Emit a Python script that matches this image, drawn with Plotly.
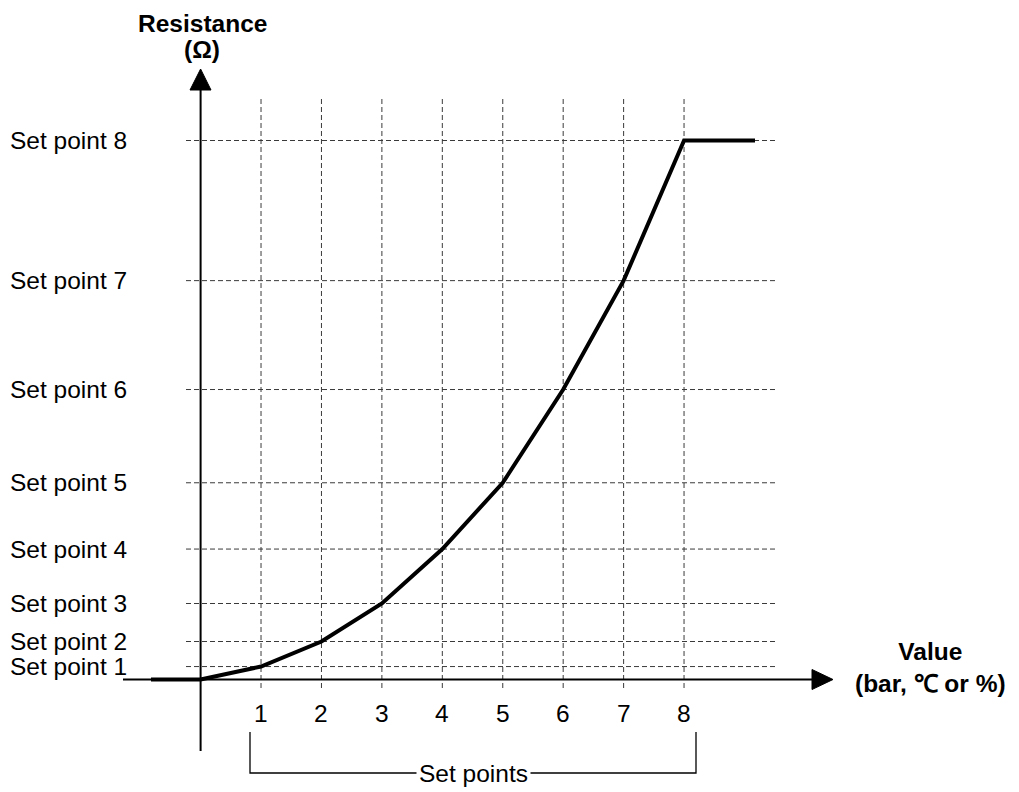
import plotly.graph_objects as go

# ---- data ----
set_point_numbers = [1, 2, 3, 4, 5, 6, 7, 8]
set_point_resistance = [2.4, 7.05, 14.1, 24.2, 36.5, 53.8, 74.0, 100.0]
tick_labels = ["1", "2", "3", "4", "5", "6", "7", "8"]
y_labels = [f"Set point {n}" for n in set_point_numbers]

W, H = 1019, 792
OFF = 8  # page body margin offset of the figure
# page-pixel <-> data mapping (linear, full-figure plot area)
PX0, PX_UNIT = 200.6, 60.43      # x pixel of value 0, pixels per unit
PY0, PY_UNIT = 679.5, 5.39       # y pixel of resistance 0, pixels per unit


def vx(p):
    return (p - PX0) / PX_UNIT


def vy(q):
    return (PY0 - q) / PY_UNIT


FONT = "Liberation Sans, Arial, Helvetica, sans-serif"
FS = 24.5

fig = go.Figure()

shapes = []
grid = dict(color="#3a3a3a", width=1, dash="5px,3px")
# vertical dashed grid lines
for n in set_point_numbers:
    shapes.append(dict(type="line", xref="x", yref="y", x0=n, x1=n,
                       y0=vy(688), y1=vy(97), line=grid, layer="below"))
# horizontal dashed grid lines
for r in set_point_resistance:
    shapes.append(dict(type="line", xref="x", yref="y", x0=vx(186), x1=vx(777),
                       y0=r, y1=r, line=grid, layer="below"))

axis_line = dict(color="black", width=2)
# x axis
shapes.append(dict(type="line", xref="x", yref="y", x0=vx(123), x1=vx(813),
                   y0=0, y1=0, line=axis_line))
shapes.append(dict(type="path", xref="x", yref="y",
                   path=f"M {vx(812)} {vy(669.5)} L {vx(833)} {vy(679.5)} L {vx(812)} {vy(689.5)} Z",
                   fillcolor="black", line=dict(color="black", width=1)))
# y axis
shapes.append(dict(type="line", xref="x", yref="y", x0=0, x1=0,
                   y0=vy(751), y1=vy(89), line=axis_line))
shapes.append(dict(type="path", xref="x", yref="y",
                   path=f"M {vx(190)} {vy(90)} L {vx(200.6)} {vy(69)} L {vx(211)} {vy(90)} Z",
                   fillcolor="black", line=dict(color="black", width=1)))
# bracket under set points
shapes.append(dict(type="path", xref="x", yref="y",
                   path=f"M {vx(250)} {vy(732)} L {vx(250)} {vy(773)} L {vx(696)} {vy(773)} L {vx(696)} {vy(732)}",
                   line=dict(color="black", width=1.3)))

# characteristic curve
curve_x = [vx(151)] + [0] + set_point_numbers + [vx(755)]
curve_y = [0, 0] + set_point_resistance + [set_point_resistance[-1]]
fig.add_trace(go.Scatter(x=curve_x, y=curve_y, mode="lines",
                         line=dict(color="black", width=4), hoverinfo="skip",
                         showlegend=False))

annotations = []
for n, t in zip(set_point_numbers, tick_labels):
    annotations.append(dict(x=n, y=vy(713), xref="x", yref="y", text=t,
                            showarrow=False, font=dict(size=FS, color="black", family=FONT),
                            xanchor="center", yanchor="middle"))
for r, t in zip(set_point_resistance, y_labels):
    annotations.append(dict(x=0, y=r, xref="paper", yref="y", text=t,
                            showarrow=False, font=dict(size=FS, color="black", family=FONT),
                            xanchor="left", yanchor="middle"))
annotations.append(dict(x=vx(473), y=vy(773), xref="x", yref="y", text="Set points",
                        showarrow=False, font=dict(size=FS, color="black", family=FONT),
                        xanchor="center", yanchor="middle", bgcolor="white", borderpad=2))
annotations.append(dict(x=vx(202), y=vy(9), xref="x", yref="y",
                        text="<b>Resistance</b>", borderpad=0,
                        showarrow=False, font=dict(size=FS, color="black", family=FONT),
                        xanchor="center", yanchor="top"))
annotations.append(dict(x=vx(202), y=vy(49), xref="x", yref="y",
                        text="<b>(Ω)</b>", borderpad=0,
                        showarrow=False, font=dict(size=FS, color="black", family=FONT),
                        xanchor="center", yanchor="middle"))
annotations.append(dict(x=vx(930), y=vy(667), xref="x", yref="y",
                        text="<b>Value</b><br><b>(bar, ℃ or %)</b>",
                        showarrow=False, font=dict(size=FS, color="black", family=FONT),
                        xanchor="center", yanchor="middle"))

fig.update_layout(
    width=W, height=H,
    margin=dict(l=0, r=0, t=0, b=0, pad=0),
    paper_bgcolor="white", plot_bgcolor="white",
    xaxis=dict(range=[vx(OFF), vx(OFF + W)], visible=False, fixedrange=True),
    yaxis=dict(range=[vy(OFF + H), vy(OFF)], visible=False, fixedrange=True),
    shapes=shapes, annotations=annotations, showlegend=False,
)

fig.write_html("out.html")
